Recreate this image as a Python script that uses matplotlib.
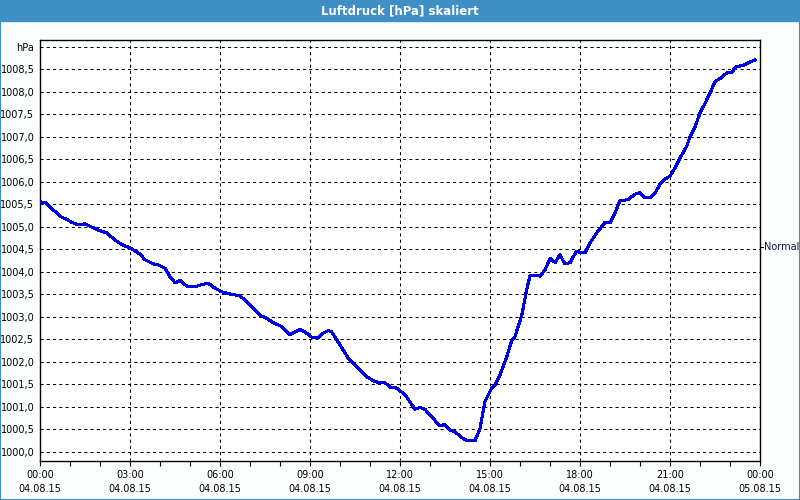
import matplotlib.pyplot as plt
from matplotlib.patches import Rectangle

# Luftdruck 04.08.15, hours since midnight and pressure in hPa
hours = [0.0, 0.22, 0.44, 0.72, 0.89, 1.06, 1.28, 1.50, 1.72, 1.94,
         2.22, 2.50, 2.78, 3.00, 3.33, 3.50, 3.78, 3.94, 4.17, 4.33,
         4.50, 4.67, 4.89, 5.17, 5.39, 5.61, 5.83, 6.06, 6.33, 6.67,
         7.00, 7.33, 7.56, 7.78, 8.00, 8.33, 8.67, 8.83, 9.06, 9.28,
         9.44, 9.61, 9.72, 10.00, 10.28, 10.56, 10.89, 11.17, 11.50, 11.67,
         11.89, 12.17, 12.50, 12.67, 12.83, 13.06, 13.33, 13.50, 13.67, 13.83,
         14.06, 14.22, 14.50, 14.67, 14.83, 15.06, 15.17, 15.33, 15.56, 15.72,
         15.83, 16.06, 16.22, 16.33, 16.50, 16.67, 16.83, 17.00, 17.17, 17.33,
         17.50, 17.67, 17.87, 18.17, 18.33, 18.56, 18.83, 19.00, 19.17, 19.33,
         19.61, 19.83, 20.00, 20.17, 20.33, 20.50, 20.67, 20.83, 21.00, 21.17,
         21.33, 21.56, 21.67, 21.83, 22.00, 22.17, 22.33, 22.50, 22.67, 22.89,
         23.06, 23.20, 23.44, 23.61, 23.83]
pressure = [1005.56, 1005.53, 1005.38, 1005.22, 1005.17, 1005.10, 1005.05, 1005.07, 1005.00, 1004.93,
            1004.87, 1004.71, 1004.59, 1004.54, 1004.40, 1004.27, 1004.18, 1004.16, 1004.08, 1003.90,
            1003.76, 1003.81, 1003.69, 1003.67, 1003.72, 1003.75, 1003.64, 1003.56, 1003.51, 1003.47,
            1003.27, 1003.04, 1002.97, 1002.87, 1002.81, 1002.61, 1002.72, 1002.67, 1002.55, 1002.55,
            1002.64, 1002.70, 1002.67, 1002.38, 1002.08, 1001.90, 1001.67, 1001.56, 1001.54, 1001.44,
            1001.42, 1001.27, 1000.95, 1000.99, 1000.95, 1000.78, 1000.58, 1000.61, 1000.49, 1000.45,
            1000.32, 1000.26, 1000.25, 1000.53, 1001.12, 1001.42, 1001.49, 1001.71, 1002.12, 1002.47,
            1002.56, 1003.04, 1003.60, 1003.91, 1003.93, 1003.91, 1004.04, 1004.30, 1004.21, 1004.38,
            1004.18, 1004.21, 1004.45, 1004.43, 1004.64, 1004.87, 1005.10, 1005.09, 1005.32, 1005.58,
            1005.61, 1005.73, 1005.76, 1005.65, 1005.65, 1005.75, 1005.96, 1006.06, 1006.13, 1006.32,
            1006.53, 1006.80, 1007.01, 1007.22, 1007.53, 1007.75, 1007.97, 1008.23, 1008.30, 1008.42,
            1008.44, 1008.56, 1008.59, 1008.65, 1008.71]

x_ticks = [0, 3, 6, 9, 12, 15, 18, 21, 24]
x_labels = ['00:00\n04.08.15', '03:00\n04.08.15', '06:00\n04.08.15',
            '09:00\n04.08.15', '12:00\n04.08.15', '15:00\n04.08.15',
            '18:00\n04.08.15', '21:00\n04.08.15', '00:00\n05.08.15']
y_ticks = [1000.0 + 0.5 * i for i in range(19)]
y_labels = [f'{v:.1f}'.replace('.', ',') for v in y_ticks[:-1]] + ['hPa']
normal_level = 1004.55

plt.rcParams['font.family'] = ['DejaVu Sans']
bar_color = '#3d8fc6'

fig = plt.figure(figsize=(8, 5), dpi=100)
fig.patch.set_facecolor('#fcfefd')

# title bar and frame
fig.patches.append(Rectangle((0, 0.958), 1, 0.042, transform=fig.transFigure,
                             color=bar_color, zorder=0))
fig.patches.append(Rectangle((0.0006, 0.001), 0.9988, 0.998, transform=fig.transFigure,
                             fill=False, edgecolor=bar_color, lw=1.5, zorder=1))
fig.text(0.5, 0.979, 'Luftdruck [hPa] skaliert', color='white', fontsize=8.5,
         fontweight='bold', ha='center', va='center')

ax = fig.add_axes([0.05, 0.078, 0.90, 0.842])
ax.set_facecolor('white')
ax.plot(hours, pressure, color='#0000e6', lw=1.5, antialiased=False, zorder=3)

ax.set_xlim(0, 24)
ax.set_ylim(999.8, 1009.155)
ax.set_xticks(x_ticks)
ax.set_xticklabels(x_labels, fontsize=7, linespacing=1.55)
ax.set_xticks(range(25), minor=True)
ax.set_yticks(y_ticks)
ax.set_yticklabels(y_labels, fontsize=7)
ax.tick_params(axis='x', which='both', direction='out', length=3.5, width=0.8, pad=3)
ax.tick_params(axis='y', length=0, pad=4)
ax.grid(True, which='major', color='black', linestyle=(0, (3, 3)), lw=0.75)

for sp in ax.spines.values():
    sp.set_color('black')
    sp.set_linewidth(1)

# "Normal" marker on the right side
ax.plot([24, 24.1], [normal_level, normal_level], color='black', lw=0.8,
        clip_on=False)
ax.text(24.12, normal_level, 'Normal', fontsize=7, color='#141448',
        ha='left', va='center', clip_on=False)

fig.savefig('out.png', dpi=100, facecolor=fig.get_facecolor())
